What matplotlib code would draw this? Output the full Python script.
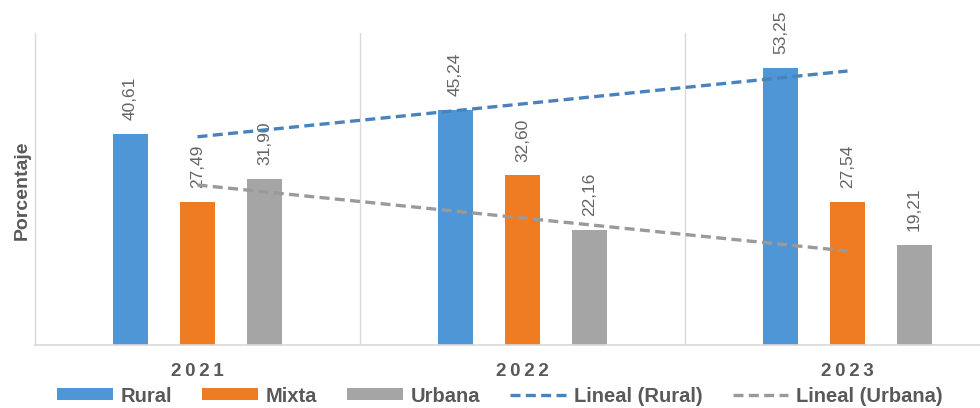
import matplotlib
matplotlib.use("Agg")
import matplotlib.pyplot as plt
import numpy as np

years = ["2021", "2022", "2023"]
series_names = ["Rural", "Mixta", "Urbana"]
rural = [40.61, 45.24, 53.25]
mixta = [27.49, 32.60, 27.54]
urbana = [31.90, 22.16, 19.21]
value_labels = {
    "Rural": ["40,61", "45,24", "53,25"],
    "Mixta": ["27,49", "32,60", "27,54"],
    "Urbana": ["31,90", "22,16", "19,21"],
}
colors = {"Rural": "#4E96D6", "Mixta": "#EF7B22", "Urbana": "#A5A5A5"}
trend_colors = {"Rural": "#4A82BE", "Urbana": "#9A9A9A"}
ylabel = "Porcentaje"

plt.rcParams['font.family'] = ['Liberation Sans', 'DejaVu Sans']

fig = plt.figure(figsize=(9.8, 4.08), dpi=100)
W, H = 980, 408
left_px, right_px, top_px, bottom_px = 35, 1010, 33, 345
ax = fig.add_axes([left_px / W, 1 - bottom_px / H, (right_px - left_px) / W, (bottom_px - top_px) / H])

x = np.arange(len(years))
bw = 0.107
offs = 0.206
data = {"Rural": rural, "Mixta": mixta, "Urbana": urbana}
bar_handles = []
for i, name in enumerate(series_names):
    vals = data[name]
    pos = x + (i - 1) * offs
    h = ax.bar(pos, vals, width=bw, color=colors[name], label=name, zorder=2)
    bar_handles.append(h)
    for p, v, lab in zip(pos, vals, value_labels[name]):
        ax.annotate(lab, (p, v), xytext=(0, 10), textcoords="offset points",
                    rotation=90, ha="center", va="bottom", fontsize=12.5,
                    color="#646464", zorder=3)

# linear trend lines
line_handles = []
for name in ["Rural", "Urbana"]:
    coef = np.polyfit(x, data[name], 1)
    ln, = ax.plot(x, np.polyval(coef, x), linestyle=(0, (3, 1.6)), linewidth=2.4,
                  color=trend_colors[name], label=f"Lineal ({name})", zorder=4)
    line_handles.append(ln)

ax.set_xlim(-0.5, 2.5)
ax.set_ylim(0, 60)
ax.set_yticks([])
ax.set_xticks(x)
ax.set_xticklabels(["\u2009".join(y) for y in years], fontsize=13.5, fontweight="bold",
                   color="#595959")
ax.tick_params(axis="x", length=0, pad=13)
for b in [0.5, 1.5]:
    ax.axvline(b, color="#D9D9D9", linewidth=1, zorder=0)
for s in ["top", "right"]:
    ax.spines[s].set_visible(False)
ax.spines["left"].set_color("#D9D9D9")
ax.spines["bottom"].set_color("#D9D9D9")
ax.spines["left"].set_linewidth(1)
ax.spines["bottom"].set_linewidth(1.2)

fig.text(22 / W, 1 - 190 / H, ylabel, rotation=90, ha="center", va="center",
         fontsize=14, fontweight="bold", color="#595959")

handles = bar_handles + line_handles
labels = [h.get_label() for h in handles]
leg = fig.legend(handles, labels, loc="center", bbox_to_anchor=(500 / W, 1 - 396 / H),
                 ncol=5, frameon=False, fontsize=14.5, handlelength=2.75,
                 handleheight=0.55, handletextpad=0.4, columnspacing=1.5,
                 borderaxespad=0, borderpad=0)
for t in leg.get_texts():
    t.set_fontweight("bold")
    t.set_color("#595959")

fig.savefig("out.png", dpi=100)
